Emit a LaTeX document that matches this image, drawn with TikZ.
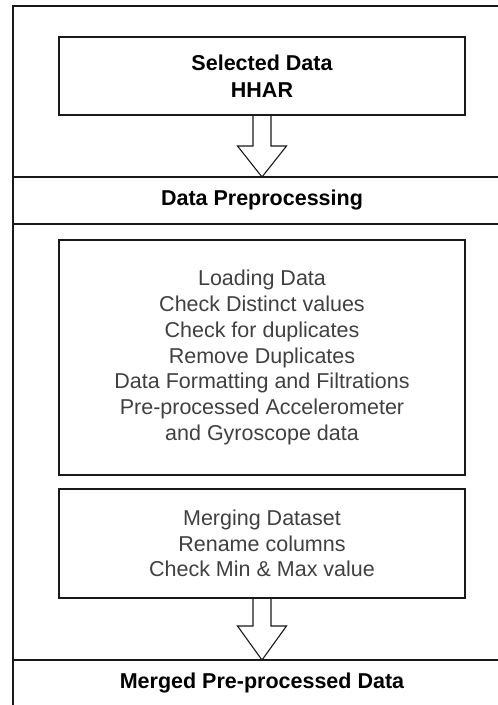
\documentclass[tikz,border=0pt]{standalone}
\usepackage{fontspec}
\setmainfont{Liberation Sans}
\usetikzlibrary{calc}
\begin{document}
\begin{tikzpicture}[x=1pt,y=-1pt,
  frame/.style={draw=black!90, line width=1.1pt},
  stage/.style={draw=black!90, line width=1.1pt, minimum width=406pt, align=center, inner sep=0pt},
  bodytext/.style={text=black!75, font=\fontsize{21.5}{25.8}\selectfont},
  headtext/.style={text=black, font=\bfseries\fontsize{21.5}{27.5}\selectfont},
  blockarrow/.style={draw=black!90, line width=1.1pt, line join=miter}]
  \useasboundingbox (0,0) rectangle (498,705);

  % swimlane frame and band separators
  \coordinate (frameBL) at (13,705);
  \coordinate (frameTL) at (13,6);
  \coordinate (frameTR) at (498,6);
  \draw[frame] (frameBL) -- (frameTL) -- (frameTR);
  \coordinate (bandAl) at (13,177);  \coordinate (bandAr) at (498,177);
  \coordinate (bandBl) at (13,224);  \coordinate (bandBr) at (498,224);
  \coordinate (bandCl) at (13,660);  \coordinate (bandCr) at (498,660);
  \draw[frame] (bandAl) -- (bandAr);
  \draw[frame] (bandBl) -- (bandBr);
  \draw[frame] (bandCl) -- (bandCr);

  % band titles
  \node[headtext] (preptitle) at (262,200) {Data Preprocessing};
  \node[headtext] (mergedtitle) at (262,683) {Merged Pre-processed Data};

  % process boxes
  \node[stage, headtext, minimum height=78pt] (sel) at (262,76) {Selected Data\\HHAR};
  \node[stage, bodytext, minimum height=235pt] (prep) at (262,357.5)
    {Loading Data\\Check Distinct values\\Check for duplicates\\Remove Duplicates\\Data Formatting and Filtrations\\Pre-processed Accelerometer\\and Gyroscope data};
  \node[stage, bodytext, minimum height=109pt] (merge) at (262,543.5)
    {Merging Dataset\\Rename columns\\Check Min \& Max value};

  % hollow block arrows into the bands
  \coordinate (tipA) at (262,177);
  \coordinate (tipC) at (262,660);
  \draw[blockarrow] ($(sel.south)+(-9,0)$) -- ($(tipA)+(-9,-31)$) -- ($(tipA)+(-24.5,-31)$)
    -- (tipA) -- ($(tipA)+(24.5,-31)$) -- ($(tipA)+(9,-31)$) -- ($(sel.south)+(9,0)$);
  \draw[blockarrow] ($(merge.south)+(-9,0)$) -- ($(tipC)+(-9,-34)$) -- ($(tipC)+(-24.5,-34)$)
    -- (tipC) -- ($(tipC)+(24.5,-34)$) -- ($(tipC)+(9,-34)$) -- ($(merge.south)+(9,0)$);
\end{tikzpicture}
\end{document}
